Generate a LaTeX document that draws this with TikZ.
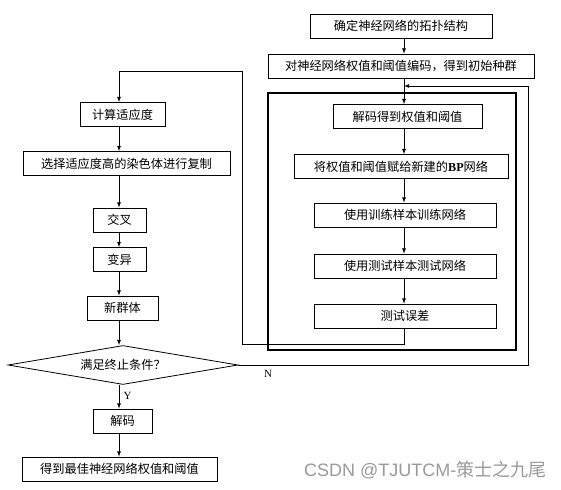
\documentclass[tikz,border=0pt]{standalone}
\usepackage{fontspec}
\setmainfont{Liberation Serif}
\newfontfamily\cjk{Noto Sans CJK SC}
\newfontfamily\wmlat{Liberation Sans}
\usetikzlibrary{shapes.geometric}

\tikzset{
  blk/.style={draw, line width=0.8pt, minimum height=24pt, inner sep=2pt,
    font=\cjk\fontsize{12.2}{14}\selectfont},
  lnk/.style={line width=0.8pt},
  arr/.style={lnk, -latex},
}

\begin{document}
\begin{tikzpicture}[x=1pt,y=-1pt]
  \useasboundingbox (0,0) rectangle (561,489);

  % network part (right)
  \node[blk, minimum width=182pt] (topo) at (401,26) {确定神经网络的拓扑结构};
  \node[blk, minimum width=266pt] (enc) at (401,66) {对神经网络权值和阈值编码，得到初始种群};
  \draw[line width=2.8pt] (268,93) rectangle (516,350);
  \node[blk, minimum width=149pt] (dec) at (407.5,116.5) {解码得到权值和阈值};
  \node[blk, minimum width=214pt] (bp) at (401,166.5)
    {将权值和阈值赋给新建的{\rmfamily\bfseries BP}网络};
  \node[blk, minimum width=182pt] (train) at (405,215) {使用训练样本训练网络};
  \node[blk, minimum width=182pt] (test) at (405,266) {使用测试样本测试网络};
  \node[blk, minimum width=182pt] (err) at (405,316) {测试误差};

  % GA part (left)
  \node[blk, minimum width=85pt] (fit) at (122.5,114.5) {计算适应度};
  \node[blk, minimum width=207pt] (sel) at (126.5,163.5) {选择适应度高的染色体进行复制};
  \node[blk, minimum width=53pt] (cross) at (119.5,220) {交叉};
  \node[blk, minimum width=53pt] (mut) at (119.5,259.5) {变异};
  \node[blk, minimum width=71pt] (newpop) at (122.5,308) {新群体};
  \node[blk, diamond, aspect=5.9, minimum width=230pt, minimum height=39pt,
    inner sep=0pt] (cond) at (123,365) {满足终止条件？};
  \node[blk, minimum width=59pt] (dcd) at (122.5,421) {解码};
  \node[blk, minimum width=195pt] (best) at (119.5,469) {得到最佳神经网络权值和阈值};

  \coordinate (lc) at (119,0);
  \coordinate (rc) at (404,0);
  \coordinate (ne) at (528,86);
  \coordinate (lb) at (242,344);
  \coordinate (lp) at (242,71);

  \foreach \a/\b in {topo/enc,enc/dec,dec/bp,bp/train,train/test,test/err}
    \draw[arr] (\a.south -| rc) -- (\b.north -| rc);
  \foreach \a/\b in {fit/sel,sel/cross,cross/mut,mut/newpop,newpop/cond,cond/dcd,dcd/best}
    \draw[arr] (\a.south -| lc) -- (\b.north -| lc);

  % loops
  \draw[arr] (err.south -| rc) |- (lb) -- (lp) -| (fit.north -| lc);
  \draw[arr] (cond.east) -| (ne) -- (ne -| rc);
  \node[font=\fontsize{11}{12}\selectfont] (nlab) at (268,374) {N};
  \node[anchor=west, font=\fontsize{11}{12}\selectfont] (ylab) at (120,396) {Y};

  \node[anchor=east, text=gray!80, font=\fontsize{18}{20}\selectfont] (wm)
    at (550,470) {\wmlat CSDN @TJUTCM-\cjk 策士之九尾};
\end{tikzpicture}
\end{document}
